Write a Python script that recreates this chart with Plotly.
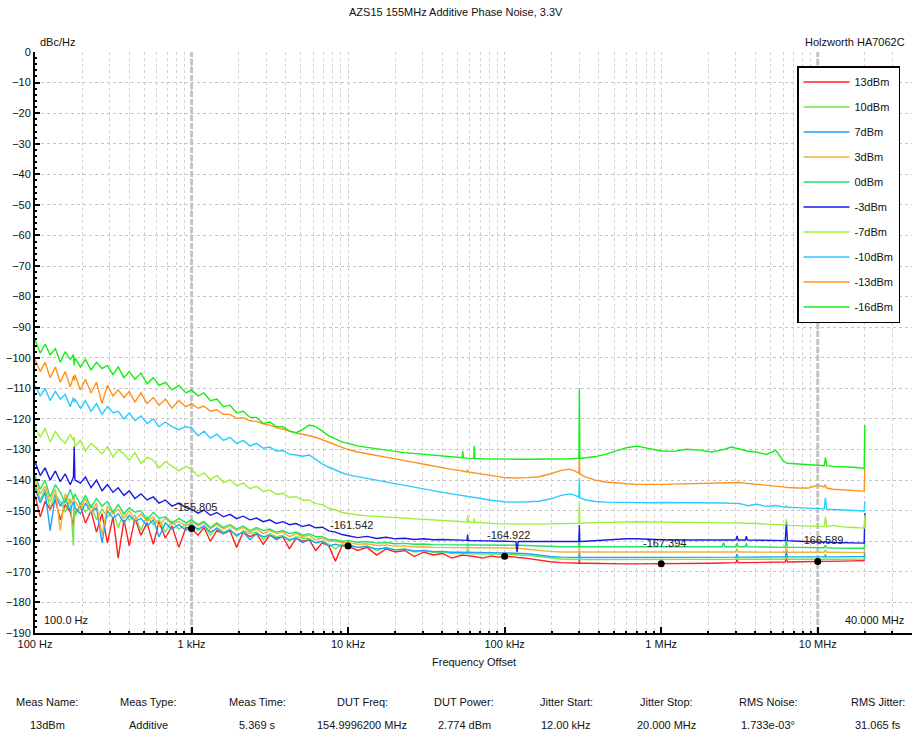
import numpy as np
import plotly.graph_objects as go

# ---------------- data ----------------
F = [100, 108, 116, 125, 135, 145, 156, 168, 176, 178, 180, 195, 210, 228, 247, 268, 290, 315, 340, 370,
     400, 435, 475, 520, 570, 620, 680, 750, 830, 920,
     1000, 1100, 1200, 1320, 1450, 1600, 1760, 1940, 2140, 2360, 2600, 2870, 3160, 3480, 3830, 4220, 4650,
     5120, 5640, 6210, 6840, 7530, 8300, 9140,
     10000, 11500, 13200, 15200, 17500, 20000, 23000, 26500, 30500, 35000, 40000, 46000, 53500, 54000, 54500,
     57500, 58000, 58500, 63500, 64000, 64500, 72000, 82000, 91000,
     100000, 118000, 120000, 122000, 140000, 165000, 195000, 230000, 260000, 280000, 298000, 300000, 302000,
     330000, 380000, 440000, 510000, 600000, 700000, 820000,
     1000000, 1200000, 1450000, 1750000, 2100000, 2450000, 2500000, 2550000, 2800000, 3000000, 3050000,
     3100000, 3450000, 3500000, 3550000, 4100000, 4700000, 5400000, 6000000, 6200000, 6300000, 6400000,
     7500000, 8700000, 10000000, 11000000, 11200000, 11400000, 12500000, 14500000, 17000000, 19800000, 20000000]

NAMES = ["13dBm", "10dBm", "7dBm", "3dBm", "0dBm", "-3dBm", "-7dBm", "-10dBm", "-13dBm", "-16dBm"]
COLORS = ["#ff2020", "#6ee84a", "#1ea4ff", "#f5b035", "#22e06a", "#1a1ae6", "#9cf03a", "#28ccff", "#ff921e", "#14ee14"]

P13 = ([-145, -152, -147, -149.5, -146.5, -153, -148, -150.5, -155, -149, -151, -148.5, -154, -150, -157, -151,
        -160.5, -152, -165.5, -153, -161.5, -152.5, -158, -154, -161, -153.5, -159, -155, -162, -155.5]
       + [-155.8, -158, -155.5, -160, -156.5, -157.5, -156.5, -162, -157, -158.5, -157.5, -161, -158, -159,
          -158.5, -162.5, -159, -160, -159.5, -163, -160.5, -161.5, -166.5, -161.5]
       + [-161.5, -163, -162, -164.5, -162.5, -163.5, -163, -165, -163.5, -164.5, -164, -165.5, -164.5, -164.5,
          -164.6, -164.7, -164.7, -164.7, -165, -165, -165, -165.5, -164.8, -165.2]
       + [-164.9, -165.2, -165.3, -165.3, -165.6, -166.2, -166.7, -167, -167.1, -167.2, -167.2, -166, -167.2,
          -167.2, -167.3, -167.3, -167.3, -167.4, -167.4, -167.4]
       + [-167.4, -167.3, -167.3, -167.2, -167.2, -167.1, -167.1, -167.1, -167.1, -167, -166, -167, -167, -167,
          -167, -166.9, -166.9, -166.8, -166.8, -166.8, -165.5, -166.8, -166.7, -166.7, -166.6, -166.6, -166.5,
          -166.6, -166.5, -166.5, -166.4, -166.3, -165])

P10 = ([-141, -146.5, -143, -149, -144.5, -147, -150.5, -146, -161.5, -147, -152, -147.5, -150.5, -148, -153,
        -149.5, -152, -150, -155.5, -150.5, -153, -151.5, -156.5, -152, -154.5, -153, -157, -153.5, -156, -154.5]
       + [-154.5, -156.5, -155, -158, -155.5, -157, -156, -158.5, -156.5, -157.5, -157, -159.5, -157.5, -158.5,
          -158, -160, -158.5, -159, -159, -160.5, -160, -161, -162.5, -161]
       + [-161, -162, -161.5, -163, -162, -162.8, -162.5, -163.5, -163, -163.6, -163.5, -164, -163.9, -163.9,
          -164, -164, -160.5, -164, -164.1, -164.1, -164.1, -164.2, -164.2, -164.3]
       + [-164.3, -164.4, -164.4, -164.4, -164.6, -165, -165.5, -165.8, -165.9, -166, -166, -164, -166, -166,
          -166, -166, -166, -166, -166, -166]
       + [-166, -166, -166, -166, -166, -166, -166, -166, -165.9, -165.9, -164.8, -165.9, -165.9, -165.9, -165.9,
          -165.9, -165.9, -165.9, -165.9, -165.9, -164, -165.9, -165.9, -165.9, -165.9, -165.9, -165.5, -165.9,
          -165.9, -165.9, -165.9, -165.8, -164.5])

P7 = ([-142.5, -147.5, -144, -156.5, -145, -148.5, -146, -150, -147, -147.5, -149, -151, -147.5, -150.5, -149,
       -160.5, -150, -152.5, -151, -154, -151.5, -153.5, -152.5, -155, -153, -158.5, -154, -156, -154.5, -156.5]
      + [-154.5, -156, -155, -157, -155.8, -157.5, -156.4, -158, -157, -159.5, -157.5, -158.5, -158, -159.5,
         -158.5, -159.5, -159, -160.5, -159.5, -160.5, -160, -161.5, -161, -161.5]
      + [-161.2, -162, -161.8, -162.5, -162.2, -162.8, -162.6, -163.2, -163, -163.4, -163.3, -163.6, -163.6,
         -163.6, -163.7, -163.7, -163.7, -163.7, -163.8, -163.8, -163.8, -163.8, -163.8, -163.8]
      + [-163.8, -163.9, -163.9, -163.9, -164.1, -164.5, -165, -165.2, -165.3, -165.3, -165.3, -163, -165.3,
         -165.3, -165.3, -165.3, -165.3, -165.3, -165.3, -165.3]
      + [-165.3, -165.3, -165.3, -165.2, -165.2, -165.2, -165.2, -165.2, -165.2, -165.2, -164.2, -165.2, -165.2,
         -165.2, -165.2, -165.1, -165.1, -165.1, -165.1, -165.1, -163, -165.1, -165.1, -165.1, -165.1, -165.1,
         -164.5, -165.1, -165.1, -165.1, -165.1, -165, -163.5])

P3 = ([-140, -144.5, -142, -147, -143, -156.5, -144.5, -148, -145.5, -146, -147, -149.5, -146, -150.5, -147.5,
       -158, -148.5, -151, -149.5, -152.5, -150, -153, -151, -153.5, -152, -155, -152.5, -154.5, -153.5, -155]
      + [-153.5, -155, -154, -156, -154.5, -156, -155, -156.5, -155.5, -157, -156, -157.5, -156.5, -157.5, -157,
         -158.5, -157.5, -158.5, -158, -159.5, -159, -160, -160, -160.5]
      + [-160.3, -161, -160.8, -161.4, -161.2, -161.6, -161.5, -161.9, -161.8, -162, -162, -162.2, -162.2,
         -162.2, -162.2, -162.2, -162.2, -162.2, -162.2, -162.2, -162.2, -162.2, -162.2, -162.2]
      + [-162.2, -162.3, -162.3, -162.3, -162.6, -163, -163.3, -163.5, -163.5, -163.5, -163.5, -161.5, -163.5,
         -163.5, -163.5, -163.5, -163.5, -163.5, -163.5, -163.5]
      + [-163.5, -163.5, -163.5, -163.5, -163.5, -163.5, -163.5, -163.5, -163.5, -163.5, -162.4, -163.5, -163.5,
         -163.5, -163.5, -163.5, -163.5, -163.5, -163.6, -163.6, -162, -163.6, -163.6, -163.6, -163.6, -163.6,
         -162.8, -163.6, -163.6, -163.6, -163.7, -163.7, -162])

P0 = ([-138.5, -143, -140, -145.5, -141.5, -144, -147.5, -143, -146, -145, -144.5, -148, -145, -149, -146,
       -148.5, -147, -150.5, -148, -151, -149, -150.5, -150, -153, -150.5, -152.5, -152, -154, -152.5, -154]
      + [-153, -154.5, -153.5, -155.5, -154, -155.5, -154.5, -156, -155, -156.5, -155.5, -156.5, -156, -157,
         -156.5, -157.5, -157, -158, -157.5, -158.5, -158.5, -159.5, -159.5, -160]
      + [-159.8, -160.3, -160.1, -160.6, -160.4, -160.8, -160.7, -161, -160.9, -161.1, -161.1, -161.2, -161.2,
         -161.2, -161.2, -161.2, -161.2, -161.2, -161.2, -161.2, -161.2, -161.2, -161.2, -161.2]
      + [-161.2, -161.3, -161.3, -161.3, -161.4, -161.6, -161.7, -161.8, -161.8, -161.8, -161.8, -158, -161.8,
         -161.8, -161.8, -161.8, -161.8, -161.8, -161.8, -161.8]
      + [-161.8, -161.8, -161.8, -161.8, -161.8, -161.8, -160.4, -161.8, -161.8, -161.8, -160.6, -161.8, -161.8,
         -160.6, -161.8, -161.9, -161.9, -161.9, -162, -162, -159.5, -162, -162, -162.1, -162.1, -162.1, -161.3,
         -162.1, -162.2, -162.2, -162.2, -162.3, -160])

M3 = ([-134, -138.5, -136, -140, -137, -140.5, -138, -141.5, -139, -129, -140, -141, -139, -142.5, -140, -143.5,
       -141.5, -144, -142.5, -145, -143.5, -146, -144.5, -146.5, -145.5, -147.5, -146.5, -148.5, -147.5, -149]
      + [-149.5, -150.8, -149.8, -151.5, -150.6, -152, -151.2, -152.6, -151.8, -153, -152.4, -153.6, -153, -154.2,
         -153.6, -154.6, -154.2, -155.2, -154.6, -155.6, -155.4, -156.6, -157, -157.8]
      + [-158.2, -158.8, -158.4, -159.1, -158.7, -159.2, -159, -159.4, -159.2, -159.5, -159.4, -159.6, -159.6,
         -159.6, -159.7, -159.7, -157.8, -159.8, -159.8, -159.8, -159.8, -159.9, -159.9, -160]
      + [-160, -160.1, -163.5, -160.1, -160.1, -160.2, -160.2, -160.2, -160.1, -160.1, -160.1, -154.7, -160.1,
         -160, -159.8, -159.6, -159.4, -159.2, -159.2, -159.4]
      + [-159.5, -159.6, -159.6, -159.6, -159.6, -159.6, -159.6, -159.6, -159.6, -159.6, -158.3, -159.6, -159.6,
         -158.3, -159.6, -159.7, -159.7, -159.8, -159.8, -159.8, -154, -159.8, -160, -160.1, -160.2, -160.3, -160,
         -160.3, -160.4, -160.5, -160.5, -160.6, -150.8])

M7 = ([-122.5, -126, -123, -127.5, -124, -126.5, -128, -125, -127, -126, -129, -127, -130.5, -128, -129.5, -131.5,
       -129, -132.5, -130, -131.5, -133.5, -131, -134.5, -132.5, -133.5, -136, -134, -135.5, -137, -135.5]
      + [-136.5, -138.8, -137.6, -139.8, -138.5, -140.8, -139.9, -141.8, -141, -142.8, -142, -143.7, -143.2,
         -144.6, -144.3, -145.7, -145.4, -146.6, -146.5, -147.7, -148, -149.3, -149.7, -150.6]
      + [-151, -151.4, -151.7, -151.9, -152.1, -152.3, -152.5, -152.7, -152.9, -153.1, -153.3, -153.5, -153.6,
         -153.6, -153.6, -153.7, -151.5, -153.7, -153.8, -152.5, -153.8, -154, -154.2, -154.3]
      + [-154.3, -154.4, -154.4, -154.4, -154.4, -154.4, -154.3, -154.2, -154.1, -154.1, -154.1, -147, -154.1,
         -154, -153.9, -153.8, -153.7, -153.6, -153.6, -153.7]
      + [-153.7, -153.8, -153.8, -153.9, -153.9, -154, -154, -154, -154, -154, -153.8, -154, -154.1, -154.1,
         -154.1, -154.2, -154.4, -154.5, -154.7, -154.7, -152.8, -154.8, -154.9, -155, -155.1, -155.2, -152,
         -155.2, -154.8, -155.3, -155.5, -155.7, -151.4])

M10 = ([-109, -112.5, -110, -114, -111, -113.5, -112, -116, -113, -114.5, -113.5, -116.5, -114, -117.5, -115,
        -118.5, -116, -118, -117.5, -120, -118, -120.5, -119, -121.5, -120, -122.5, -121, -122.5, -123.5, -122.5]
       + [-123, -125.5, -124, -126.3, -125, -127, -126, -128, -127, -128.8, -128, -129.6, -129.2, -130.5, -130.4,
          -131.5, -131.8, -132.2, -131.8, -133.3, -134.7, -135.8, -136.8, -137.6]
       + [-138.3, -138.9, -139.5, -140.1, -140.7, -141.2, -141.7, -142.3, -142.9, -143.5, -144, -144.5, -145,
          -145, -145.1, -145.2, -145.2, -145.3, -145.6, -145.6, -145.6, -146.1, -146.6, -146.9]
       + [-147.1, -147.2, -147.2, -147.2, -147.1, -146.9, -146.2, -145, -144.5, -144.9, -145.6, -139.5, -145.8,
          -146.5, -147, -147.2, -147.3, -147.4, -147.4, -147.4]
       + [-147.3, -147.3, -147.4, -147.4, -147.5, -147.5, -147.5, -147.5, -147.6, -147.6, -147.5, -147.6, -148.1,
          -148.3, -148.4, -147.9, -148.6, -148.3, -148.8, -148.9, -148.5, -148.9, -149, -149.1, -149.3, -149.4,
          -145.8, -149.5, -149.6, -149.8, -150, -150.1, -147])

M13 = ([-100.5, -104.5, -101.5, -106.5, -103, -108, -104.5, -109.5, -106, -107.5, -105.5, -110.5, -107, -111.5,
        -108, -115, -109, -112.5, -110.5, -113, -111, -114.5, -111.5, -115, -113, -115.5, -113.5, -116.5, -114, -116]
       + [-115, -116.5, -115.8, -117.5, -117, -118.5, -118.5, -119.8, -119.6, -120.6, -120.8, -121.6, -122,
          -122.8, -123.3, -124, -124.6, -125, -125.4, -126, -126.8, -127.6, -128.6, -129.4]
       + [-130, -130.8, -131.4, -132, -132.6, -133.1, -133.6, -134.2, -134.8, -135.4, -135.9, -136.5, -137, -137,
          -137.1, -137.3, -136.5, -137.3, -137.6, -137.6, -137.7, -138.1, -138.6, -139]
       + [-139.2, -139.3, -139.3, -139.3, -139.2, -138.9, -138, -136.8, -136.4, -137, -137.8, -132.5, -138, -139,
          -140, -140.6, -141, -141.2, -141.4, -141.5]
       + [-141.4, -141.3, -141.2, -141.1, -141, -140.9, -140.9, -140.9, -140.8, -140.8, -140.7, -140.8, -141,
          -141.1, -141.1, -141.4, -141.6, -141.9, -142.2, -142.3, -142.3, -142.4, -142.6, -142.6, -141.7, -142.2,
          -141.5, -142.6, -143, -143.2, -143.4, -143.6, -136])

M16 = ([-94, -98.5, -95.5, -99, -97, -101.5, -98, -100.5, -99, -102.5, -100, -103, -100.5, -104, -101.5, -103.5,
        -102.5, -105.5, -103, -106.5, -104.5, -107, -105, -108.5, -106.5, -109, -108, -110.5, -109, -111.5]
       + [-110.5, -112.5, -111.5, -114, -113.5, -116, -115.5, -118, -117.5, -119.5, -119.5, -121.5, -121, -122.5,
          -122.5, -124, -124.5, -123.5, -122, -122.5, -124, -125.5, -126.5, -127.5]
       + [-128, -128.8, -129.3, -129.8, -130.2, -130.6, -131, -131.3, -131.6, -131.9, -132.2, -132.5, -132.7,
          -130.5, -132.7, -132.8, -132.8, -132.8, -132.9, -128.8, -132.9, -133, -133.1, -133.1]
       + [-133.1, -133.2, -133.2, -133.2, -133.2, -133.2, -133.2, -133.1, -133, -132.9, -132.9, -110, -132.9,
          -132.7, -132.3, -131.6, -130.6, -129.4, -128.9, -129.6]
       + [-130.5, -130.6, -129.9, -130.2, -130.8, -130.1, -130, -129.9, -129.2, -129.5, -129.6, -129.7, -130.3,
          -130.4, -130.5, -130.9, -131.6, -130.3, -133.6, -134.3, -134.4, -134.5, -134.8, -135, -135.2, -135.3,
          -132.6, -135.3, -135.5, -135.6, -135.8, -136.1, -122])

SERIES = [P13, P10, P7, P3, P0, M3, M7, M10, M13, M16]

MARK_F = [1e3, 1e4, 1e5, 1e6, 1e7]
MARK_V = [-155.805, -161.542, -164.922, -167.394, -166.589]
CURSOR_F = [1e3, 1e7]

X_TICKS = [100, 1e3, 1e4, 1e5, 1e6, 1e7]
X_TICKTEXT = ["100 Hz", "1 kHz", "10 kHz", "100 kHz", "1 MHz", "10 MHz"]

TABLE_HEAD = ["Meas Name:", "Meas Type:", "Meas Time:", "DUT Freq:", "DUT Power:", "Jitter Start:",
              "Jitter Stop:", "RMS Noise:", "RMS Jitter:"]
TABLE_VALS = ["13dBm", "Additive", "5.369 s", "154.9996200 MHz", "2.774 dBm", "12.00 kHz", "20.000 MHz",
              "1.733e-03°", "31.065 fs"]
TABLE_X = [47, 148, 257, 362, 464, 566, 666, 768, 878]

for n, s in zip(NAMES, SERIES):
    if len(s) != len(F):
        raise ValueError(f"{n}: {len(s)} values vs {len(F)} freqs")

# ---------------- geometry ----------------
W, H = 913, 736
ML, MR, MT, MB = 35, 1, 52, 103
PW, PH = W - ML - MR, H - MT - MB
FONT = "Liberation Sans, Arial, sans-serif"


def px(xp):
    return (xp - ML) / PW


def py(yp):
    return (H - MB - yp) / PH


fig = go.Figure()

for cf in CURSOR_F:
    fig.add_trace(go.Scatter(x=[cf, cf], y=[-190, 0], mode="lines",
                             line=dict(color="#c4c4c4", width=3, dash="6px,2px"),
                             showlegend=False, hoverinfo="skip"))

for n, c, s in zip(NAMES, COLORS, SERIES):
    fig.add_trace(go.Scatter(x=F, y=s, mode="lines", name=n, legendgroup=n,
                             line=dict(color=c, width=1.4)))

fig.add_trace(go.Scatter(x=MARK_F, y=MARK_V, mode="markers", showlegend=False,
                         marker=dict(color="black", size=7)))

ann = []
for f, v in zip(MARK_F, MARK_V):
    ann.append(dict(x=np.log10(f), y=v, xref="x", yref="y", text=f"{v:.3f}", showarrow=False,
                    xanchor="left", yanchor="middle", xshift=-20, yshift=21,
                    font=dict(size=11, color="#222", family=FONT)))

def txt(x, y, t, anchor="center", size=11):
    ann.append(dict(x=px(x), y=py(y), xref="paper", yref="paper", text=t, showarrow=False,
                    xanchor=anchor, yanchor="middle", font=dict(size=size, color="#111", family=FONT)))

txt(456, 12, "AZS15 155MHz Additive Phase Noise, 3.3V")
txt(38, 42, "dBc/Hz", "left")
txt(907, 42, "Holzworth HA7062C", "right")
txt(42, 620, "100.0 Hz", "left")
txt(906, 620, "40.000 MHz", "right")
txt(474, 662, "Frequency Offset")
for xh, h, v in zip(TABLE_X, TABLE_HEAD, TABLE_VALS):
    txt(xh, 702, h)
    txt(xh, 725, v)

minor_vals = [d * k for d in [100, 1e3, 1e4, 1e5, 1e6, 1e7] for k in range(2, 10) if d * k < 4e7]

fig.update_layout(
    width=W, height=H, margin=dict(l=ML, r=MR, t=MT, b=MB),
    paper_bgcolor="white", plot_bgcolor="white",
    font=dict(family=FONT, size=11, color="#111"),
    showlegend=True,
    legend=dict(x=px(797), y=py(66), xanchor="left", yanchor="top", bgcolor="white",
                bordercolor="black", borderwidth=1.5, tracegroupgap=6, itemwidth=46,
                font=dict(size=11, family=FONT, color="#111")),
    annotations=ann,
    xaxis=dict(type="log", range=[2, np.log10(4e7)], tickvals=X_TICKS, ticktext=X_TICKTEXT,
               ticks="inside", ticklen=6, tickwidth=2, tickcolor="black",
               showline=True, linecolor="black", linewidth=2,
               showgrid=True, gridcolor="#cccccc", griddash="dot", gridwidth=1,
               minor=dict(tickvals=minor_vals, showgrid=True, gridcolor="#d2d2d2", griddash="dot",
                          ticks="inside", ticklen=2, tickcolor="black"),
               zeroline=False, tickfont=dict(size=11)),
    yaxis=dict(range=[-190, 0], dtick=10, ticks="inside", ticklen=5, tickwidth=1.5, tickcolor="black",
               showline=True, linecolor="black", linewidth=2,
               showgrid=True, gridcolor="#c4c4c4", griddash="dot", gridwidth=1,
               minor=dict(dtick=2, ticks="inside", ticklen=2, tickcolor="black", showgrid=False),
               zeroline=False, tickfont=dict(size=11)),
)

fig.write_html("out.html")
